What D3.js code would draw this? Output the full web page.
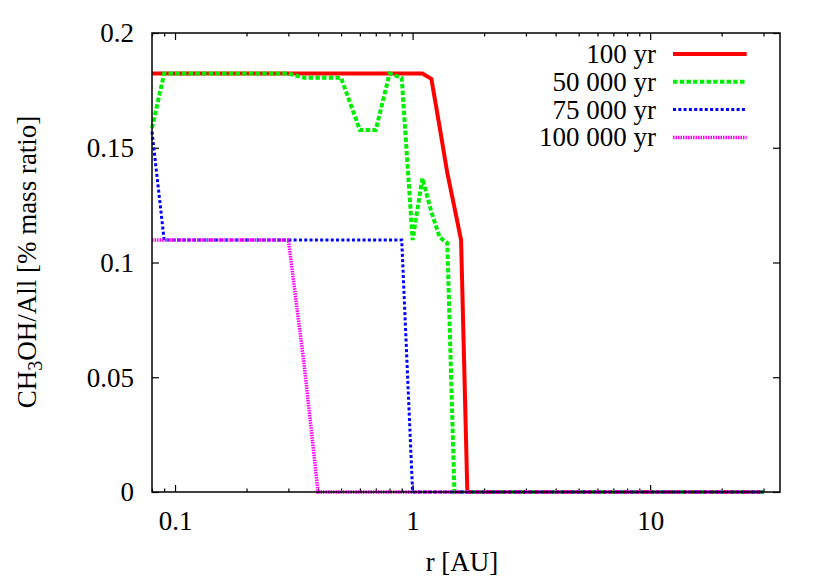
<!DOCTYPE html>
<html>
<head>
<meta charset="utf-8">
<script src="https://cdn.jsdelivr.net/npm/d3@7"></script>
</head>
<body style="margin:0; background:#fff">
<div id="chart"></div>
<script>
const width = 830;
const height = 581;
const margin = { top: 33, right: 50, bottom: 89, left: 152 };
const serif = "Liberation Serif";
const fontSize = 27;

// radius grid [AU]
const radius = [0.08, 0.09, 0.1, 0.2, 0.3, 0.35, 0.4, 0.5, 0.6, 0.7, 0.8, 0.9, 1.0, 1.1, 1.2, 1.3, 1.4, 1.5, 1.6, 1.7, 1.8, 2, 3, 5, 10, 20, 30];

const yr100 = [0.1823, 0.1823, 0.1823, 0.1823, 0.1823, 0.1823, 0.1823, 0.1823, 0.1823, 0.1823, 0.1823, 0.1823, 0.1823, 0.1823, 0.180, 0.159, 0.139, 0.124, 0.1098, 0, 0, 0, 0, 0, 0, 0, 0];
const yr50000 = [0.1585, 0.1823, 0.1823, 0.1823, 0.1823, 0.1805, 0.1805, 0.1805, 0.1577, 0.1577, 0.1823, 0.1804, 0.1098, 0.1367, 0.122, 0.111, 0.1085, 0, 0, 0, 0, 0, 0, 0, 0, 0, 0];
const yr75000 = [0.157, 0.1098, 0.1098, 0.1098, 0.1098, 0.1098, 0.1098, 0.1098, 0.1098, 0.1098, 0.1098, 0.1098, 0, 0, 0, 0, 0, 0, 0, 0, 0, 0, 0, 0, 0, 0, 0];
const yr100000 = [0.1098, 0.1098, 0.1098, 0.1098, 0.1098, 0.055, 0, 0, 0, 0, 0, 0, 0, 0, 0, 0, 0, 0, 0, 0, 0, 0, 0, 0, 0, 0, 0];

const seriesNames = ["100 yr", "50 000 yr", "75 000 yr", "100 000 yr"];
const seriesValues = [yr100, yr50000, yr75000, yr100000];

const yTicks = [0, 0.05, 0.1, 0.15, 0.2];
const xMajor = [0.1, 1, 10];
const xMinor = [0.08, 0.09, 0.2, 0.3, 0.4, 0.5, 0.6, 0.7, 0.8, 0.9, 2, 3, 4, 5, 6, 7, 8, 9, 20, 30];

const styles = [
    { color: "#ff0000", width: 4, dash: null },
    { color: "#00ee00", width: 4, dash: "4.5,2.2" },
    { color: "#0000ff", width: 3, dash: "3,2.3" },
    { color: "#ff00ff", width: 3.5, dash: "1.5,1" }
];

const svg = d3.select("#chart")
    .append("svg")
    .attr("width", width)
    .attr("height", height);

const plotW = width - margin.left - margin.right;
const plotH = height - margin.top - margin.bottom;

const x = d3.scaleLog().domain([0.08, 35.2]).range([0, plotW]);
const y = d3.scaleLinear().domain([0, 0.2]).range([plotH, 0]);

const g = svg.append("g")
    .attr("transform", `translate(${margin.left},${margin.top})`);

// axes: ticks drawn inward on all four sides
const fmt = d => d3.format("~g")(d);

const bottomMajor = d3.axisBottom(x).tickValues(xMajor).tickSize(-7).tickFormat(fmt).tickPadding(37.5);
const bottomMinor = d3.axisBottom(x).tickValues(xMinor).tickSize(-3.5).tickFormat("");
const topMajor = d3.axisTop(x).tickValues(xMajor).tickSize(-7).tickFormat("");
const topMinor = d3.axisTop(x).tickValues(xMinor).tickSize(-3.5).tickFormat("");
const leftAxis = d3.axisLeft(y).tickValues(yTicks).tickSize(-7).tickFormat(fmt).tickPadding(18);
const rightAxis = d3.axisRight(y).tickValues(yTicks).tickSize(-7).tickFormat("");

function styleAxis(sel) {
    sel.attr("font-family", serif).attr("font-size", fontSize);
    sel.select(".domain").remove();
    sel.selectAll(".tick line").attr("stroke", "#000").attr("stroke-width", 1.2);
    sel.selectAll("text").attr("fill", "#000");
}

g.append("g").attr("transform", `translate(0,${plotH})`).call(bottomMajor).call(styleAxis)
    .selectAll("text").attr("dy", 0);
g.append("g").attr("transform", `translate(0,${plotH})`).call(bottomMinor).call(styleAxis);
g.append("g").call(topMajor).call(styleAxis);
g.append("g").call(topMinor).call(styleAxis);
g.append("g").call(leftAxis).call(styleAxis)
    .selectAll("text").attr("dy", "0.33em");
g.append("g").attr("transform", `translate(${plotW},0)`).call(rightAxis).call(styleAxis);

// series lines
const line = d3.line()
    .x(d => x(d[0]))
    .y(d => y(d[1]));

seriesValues.forEach((vals, i) => {
    const pts = radius.map((r, j) => [r, vals[j]]);
    g.append("path")
        .datum(pts)
        .attr("fill", "none")
        .attr("stroke", styles[i].color)
        .attr("stroke-width", styles[i].width)
        .attr("stroke-linejoin", "miter")
        .attr("stroke-dasharray", styles[i].dash)
        .attr("d", line);
});

// frame
g.append("rect")
    .attr("width", plotW)
    .attr("height", plotH)
    .attr("fill", "none")
    .attr("stroke", "#000")
    .attr("stroke-width", 1.5);

// legend
const legend = g.append("g").attr("transform", `translate(${656 - margin.left},${54 - margin.top})`);
seriesNames.forEach((name, i) => {
    const row = legend.append("g").attr("transform", `translate(0,${i * 27.8})`);
    row.append("text")
        .attr("x", 0)
        .attr("y", 9)
        .attr("text-anchor", "end")
        .attr("font-family", serif)
        .attr("font-size", fontSize)
        .text(name);
    row.append("line")
        .attr("x1", 17)
        .attr("x2", 90.7)
        .attr("y1", 0)
        .attr("y2", 0)
        .attr("stroke", styles[i].color)
        .attr("stroke-width", styles[i].width)
        .attr("stroke-dasharray", styles[i].dash);
});

// axis labels
svg.append("text")
    .attr("x", margin.left + plotW / 2 - 4)
    .attr("y", 571)
    .attr("text-anchor", "middle")
    .attr("font-family", serif)
    .attr("font-size", fontSize)
    .text("r [AU]");

const yLabel = svg.append("text")
    .attr("transform", "translate(36,262) rotate(-90)")
    .attr("text-anchor", "middle")
    .attr("font-family", serif)
    .attr("font-size", fontSize);
yLabel.append("tspan").text("CH");
yLabel.append("tspan").attr("dy", 6).attr("font-size", 20).text("3");
yLabel.append("tspan").attr("dy", -6).text("OH/All [% mass ratio]");
</script>
</body>
</html>
